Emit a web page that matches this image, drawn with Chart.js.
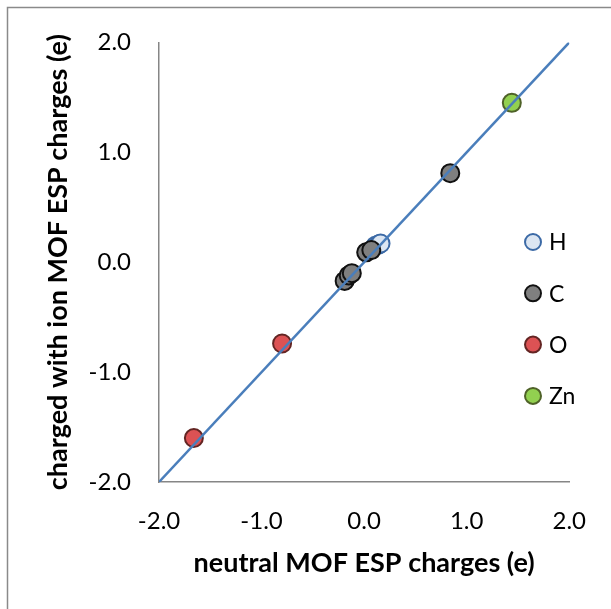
<!DOCTYPE html>
<html>
<head>
<meta charset="utf-8">
<script src="https://cdn.jsdelivr.net/npm/chart.js@4"></script>
<style>
  html, body { margin:0; padding:0; background:#fff; }
  #wrap { width:611px; height:609px; }
</style>
</head>
<body>
<div id="wrap"><canvas id="chart" width="611" height="609"></canvas></div>
<script>
// charge data: neutral (x) vs charged-with-ion (y)
const hX = [0.11, 0.14, 0.16];
const hY = [0.15, 0.16, 0.17];
const cX = [0.84, 0.02, 0.07, -0.19, -0.15, -0.12];
const cY = [0.81, 0.09, 0.11, -0.17, -0.12, -0.10];
const oX = [-0.80, -1.66];
const oY = [-0.74, -1.60];
const znX = [1.44];
const znY = [1.45];
const parityX = [-2, 2];
const parityY = [-2, 2];
const tickVals = [-2, -1, 0, 1, 2];

const pts = (xs, ys) => xs.map((x, i) => ({x: x, y: ys[i]}));
const FONT = 'Lato, "Open Sans", sans-serif';

function series(label, xs, ys, fill, edge, order){
  return {label: label, data: pts(xs, ys), backgroundColor: fill, borderColor: edge,
    pointRadius: 9, pointHoverRadius: 9, borderWidth: 2, showLine: false, order: order};
}

// frame round the chart (only left/top edges fall inside the picture)
const framePlugin = {
  id: 'frame',
  beforeDraw(chart){
    const c = chart.ctx;
    c.save();
    c.fillStyle = '#fff';
    c.fillRect(0, 0, chart.width, chart.height);
    c.strokeStyle = '#8a8a8a';
    c.lineWidth = 1.5;
    c.strokeRect(7.5, 7.5, 800, 800);
    c.restore();
  }
};

// legend drawn inside the plot, right side, like the Excel one
const legendPlugin = {
  id: 'sideLegend',
  afterDraw(chart){
    const c = chart.ctx;
    const items = chart.data.datasets.filter(d => d.showLine === false);
    c.save();
    c.font = '23px ' + FONT;
    c.textBaseline = 'middle';
    c.textAlign = 'left';
    items.forEach((d, i) => {
      const y = 242 + i * 51.3;
      c.beginPath();
      c.arc(533, y, 8, 0, Math.PI * 2);
      c.fillStyle = d.backgroundColor;
      c.fill();
      c.lineWidth = 2;
      c.strokeStyle = d.borderColor;
      c.stroke();
      c.fillStyle = '#000';
      c.fillText(d.label, 549, y + 1);
    });
    c.restore();
  }
};

new Chart(document.getElementById('chart').getContext('2d'), {
  type: 'scatter',
  data: {
    datasets: [
      {label: 'parity', data: pts(parityX, parityY), showLine: true, borderColor: '#4a7ebb',
        borderWidth: 2.5, pointRadius: 0, fill: false, order: 1},
      series('H', hX, hY, '#dce6f2', '#3c6aa6', 5),
      series('C', cX, cY, '#7f7f7f', '#111111', 4),
      series('O', oX, oY, '#dc5254', '#632523', 3),
      series('Zn', znX, znY, '#92d050', '#4f6228', 2)
    ]
  },
  options: {
    responsive: false,
    animation: false,
    layout: {padding: {left: 34, top: 41, right: 36, bottom: 30}},
    plugins: {legend: {display: false}, tooltip: {enabled: false}},
    scales: {
      x: {
        type: 'linear', min: -2, max: 2,
        afterBuildTicks: s => { s.ticks = tickVals.map(v => ({value: v})); },
        afterFit: s => { s.height = 609 - 482 - 30; },
        grid: {display: false, drawTicks: false},
        border: {display: true, color: '#868686', width: 1.5},
        ticks: {color: '#000', font: {family: FONT, size: 24}, padding: 25, maxRotation: 0,
          callback: v => v.toFixed(1)},
        title: {display: true, text: 'neutral MOF ESP charges (e)', color: '#000',
          font: {family: FONT, size: 27, weight: 'bold'}, padding: {top: 0, bottom: 0}}
      },
      y: {
        type: 'linear', min: -2, max: 2,
        afterBuildTicks: s => { s.ticks = tickVals.map(v => ({value: v})); },
        afterFit: s => { s.width = 159 - 34; },
        grid: {display: false, drawTicks: false},
        border: {display: true, color: '#868686', width: 1.5},
        ticks: {color: '#000', font: {family: FONT, size: 24}, padding: 28,
          callback: v => v.toFixed(1)},
        title: {display: true, text: 'charged with ion MOF ESP charges (e)', color: '#000',
          font: {family: FONT, size: 27, weight: 'bold'}, padding: {top: 8, bottom: 0}}
      }
    }
  },
  plugins: [framePlugin, legendPlugin]
});
</script>
</body>
</html>
